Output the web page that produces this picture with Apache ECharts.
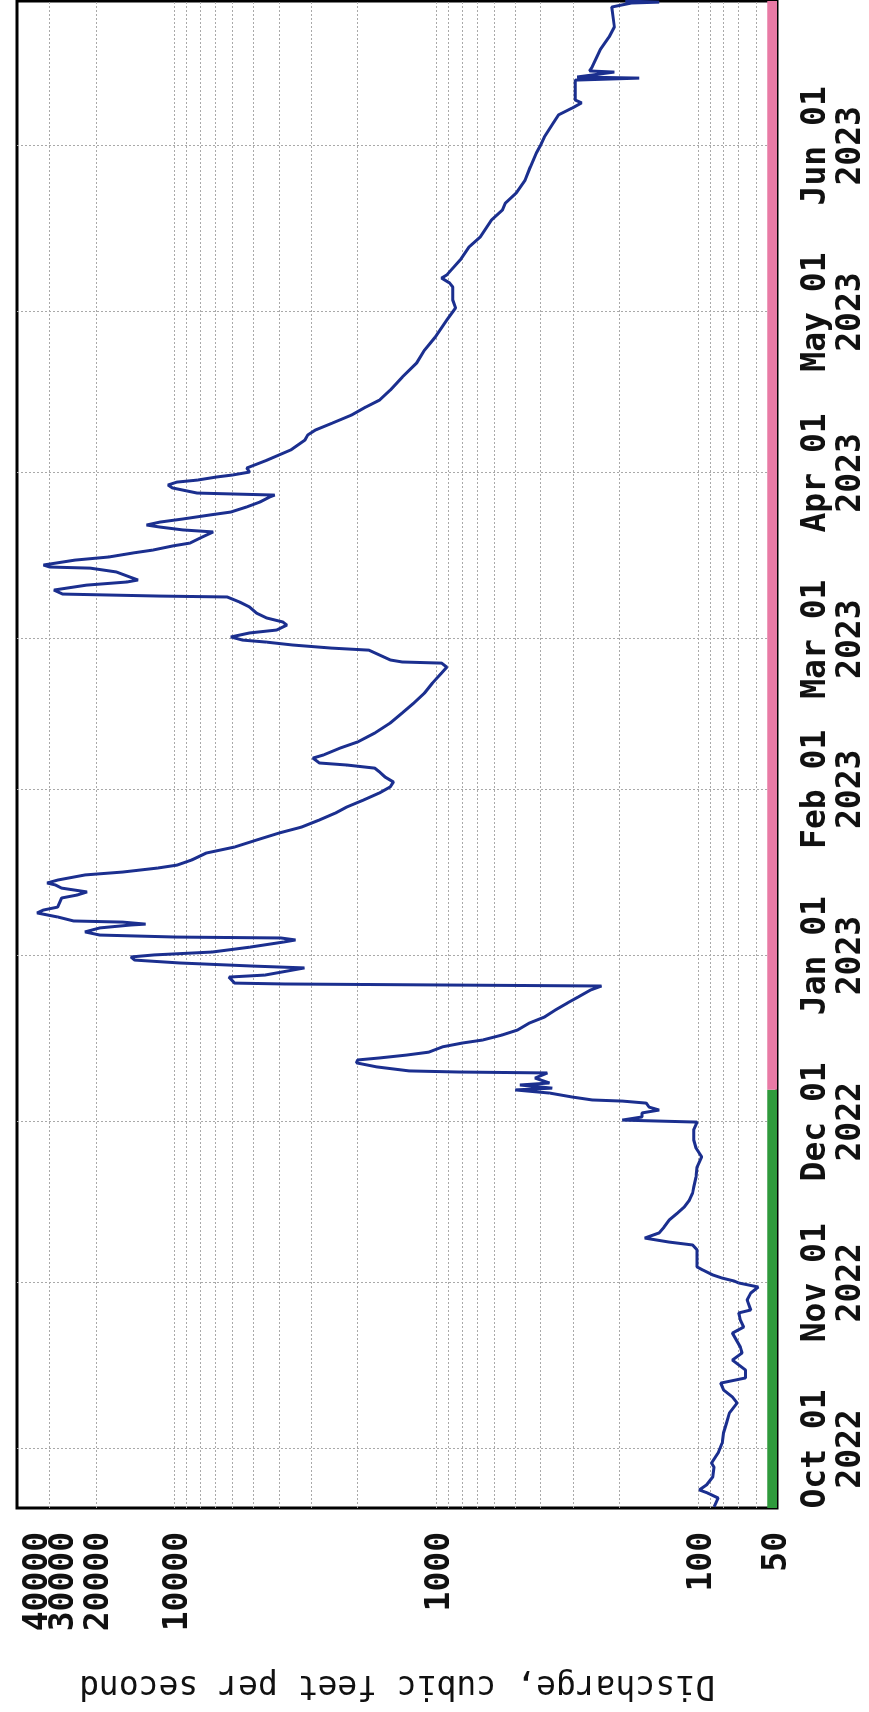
<!DOCTYPE html>
<html>
<head>
<meta charset="utf-8">
<title>Discharge, cubic feet per second</title>
<script src="https://cdn.jsdelivr.net/npm/echarts@6/dist/echarts.min.js"></script>
<style>
  html, body { margin: 0; padding: 0; background: #fff; overflow: hidden; }
  #page { position: relative; width: 869px; height: 1712px; overflow: hidden; background: #fff; }
  /* the scanned graph lies on its side: draw it upright, then turn the box a quarter left */
  #chart { position: absolute; left: 0; top: 0; width: 1712px; height: 869px;
           transform-origin: 0 0; transform: translate(0, 1712px) rotate(-90deg); }
</style>
</head>
<body>
<div id="page"><div id="chart"></div></div>
<script>
var times = [
  '2022-09-20 05:00','2022-09-21 21:00','2022-09-22 19:00','2022-09-23 09:00','2022-09-24 07:00',
  '2022-09-25 19:00','2022-09-27 15:00','2022-09-28 09:00','2022-09-30 06:00','2022-10-02 03:00',
  '2022-10-04 00:00','2022-10-05 20:00','2022-10-07 17:00','2022-10-09 14:00','2022-10-10 17:00',
  '2022-10-12 00:00','2022-10-13 07:00','2022-10-14 06:00','2022-10-15 18:00','2022-10-17 14:00',
  '2022-10-18 22:00','2022-10-20 00:00','2022-10-22 15:00','2022-10-23 18:00','2022-10-25 01:00',
  '2022-10-26 09:00','2022-10-26 22:00','2022-10-28 19:00','2022-10-30 02:00','2022-10-31 05:00',
  '2022-10-31 23:00','2022-11-01 08:00','2022-11-01 21:00','2022-11-02 11:00','2022-11-03 09:00',
  '2022-11-03 23:00','2022-11-07 03:00','2022-11-08 01:00','2022-11-08 14:00','2022-11-09 08:00',
  '2022-11-10 07:00','2022-11-11 09:00','2022-11-12 17:00','2022-11-14 00:00','2022-11-15 03:00',
  '2022-11-16 10:00','2022-11-17 18:00','2022-11-18 20:00','2022-11-20 17:00','2022-11-22 14:00',
  '2022-11-24 11:00','2022-11-26 03:00','2022-11-27 15:00','2022-11-29 12:00','2022-11-30 23:00',
  '2022-12-01 08:00','2022-12-01 22:00','2022-12-02 16:00','2022-12-03 05:00','2022-12-03 18:00',
  '2022-12-04 12:00','2022-12-04 21:00','2022-12-05 02:00','2022-12-05 15:00','2022-12-06 09:00',
  '2022-12-06 23:00','2022-12-07 07:00','2022-12-07 21:00','2022-12-08 06:00','2022-12-09 04:00',
  '2022-12-10 03:00','2022-12-10 07:00','2022-12-10 12:00','2022-12-11 06:00','2022-12-12 00:00',
  '2022-12-12 13:00','2022-12-12 22:00','2022-12-13 11:00','2022-12-14 00:00','2022-12-15 00:00',
  '2022-12-15 17:00','2022-12-16 06:00','2022-12-17 05:00','2022-12-18 03:00','2022-12-19 10:00',
  '2022-12-20 13:00','2022-12-21 21:00','2022-12-23 04:00','2022-12-24 07:00','2022-12-25 14:00',
  '2022-12-26 08:00','2022-12-26 17:00','2022-12-26 21:00','2022-12-28 00:00','2022-12-28 09:00',
  '2022-12-29 17:00','2022-12-30 01:00','2022-12-30 15:00','2022-12-31 04:00','2022-12-31 18:00',
  '2023-01-01 03:00','2023-01-01 16:00','2023-01-02 14:00','2023-01-03 13:00','2023-01-03 22:00',
  '2023-01-04 07:00','2023-01-04 11:00','2023-01-04 20:00','2023-01-05 10:00','2023-01-06 04:00',
  '2023-01-06 17:00','2023-01-06 21:00','2023-01-07 06:00','2023-01-07 11:00','2023-01-08 05:00',
  '2023-01-08 23:00','2023-01-09 12:00','2023-01-10 01:00','2023-01-11 18:00','2023-01-12 07:00',
  '2023-01-12 21:00','2023-01-13 14:00','2023-01-14 04:00','2023-01-14 13:00','2023-01-15 02:00',
  '2023-01-16 01:00','2023-01-16 14:00','2023-01-17 08:00','2023-01-17 21:00','2023-01-18 20:00',
  '2023-01-20 03:00','2023-01-21 06:00','2023-01-22 13:00','2023-01-23 21:00','2023-01-24 23:00',
  '2023-01-26 07:00','2023-01-27 14:00','2023-01-28 17:00','2023-01-30 00:00','2023-01-31 08:00',
  '2023-02-01 11:00','2023-02-02 09:00','2023-02-03 07:00','2023-02-04 06:00','2023-02-04 23:00',
  '2023-02-05 13:00','2023-02-05 22:00','2023-02-06 20:00','2023-02-07 10:00','2023-02-08 17:00',
  '2023-02-09 20:00','2023-02-11 12:00','2023-02-13 09:00','2023-02-15 06:00','2023-02-17 02:00',
  '2023-02-18 23:00','2023-02-20 20:00','2023-02-22 17:00','2023-02-23 19:00','2023-02-24 13:00',
  '2023-02-24 18:00','2023-02-25 03:00','2023-02-26 23:00','2023-02-27 08:00','2023-02-27 22:00',
  '2023-02-28 11:00','2023-02-28 20:00','2023-03-01 10:00','2023-03-02 04:00','2023-03-02 17:00',
  '2023-03-03 15:00','2023-03-04 05:00','2023-03-04 23:00','2023-03-05 21:00','2023-03-07 00:00',
  '2023-03-07 22:00','2023-03-08 21:00','2023-03-09 01:00','2023-03-09 10:00','2023-03-10 04:00',
  '2023-03-11 02:00','2023-03-11 16:00','2023-03-12 01:00','2023-03-12 14:00','2023-03-13 13:00',
  '2023-03-14 06:00','2023-03-14 11:00','2023-03-14 20:00','2023-03-15 18:00','2023-03-16 08:00',
  '2023-03-17 02:00','2023-03-17 15:00','2023-03-18 09:00','2023-03-18 22:00','2023-03-20 01:00',
  '2023-03-21 00:00','2023-03-21 09:00','2023-03-21 22:00','2023-03-22 07:00','2023-03-22 20:00',
  '2023-03-23 10:00','2023-03-24 04:00','2023-03-24 17:00','2023-03-25 16:00','2023-03-26 14:00',
  '2023-03-27 12:00','2023-03-27 21:00','2023-03-28 06:00','2023-03-29 05:00','2023-03-29 18:00',
  '2023-03-30 07:00','2023-03-30 16:00','2023-03-31 06:00','2023-03-31 15:00','2023-04-01 04:00',
  '2023-04-01 22:00','2023-04-03 10:00','2023-04-05 07:00','2023-04-07 03:00','2023-04-08 02:00',
  '2023-04-09 00:00','2023-04-10 07:00','2023-04-11 19:00','2023-04-13 07:00','2023-04-14 14:00',
  '2023-04-16 11:00','2023-04-18 21:00','2023-04-21 12:00','2023-04-23 22:00','2023-04-26 08:00',
  '2023-04-29 12:00','2023-05-01 18:00','2023-05-03 06:00','2023-05-05 16:00','2023-05-06 10:00',
  '2023-05-07 08:00','2023-05-07 22:00','2023-05-10 17:00','2023-05-13 03:00','2023-05-15 00:00',
  '2023-05-18 04:00','2023-05-20 00:00','2023-05-21 08:00','2023-05-23 05:00','2023-05-25 15:00',
  '2023-05-28 01:00','2023-05-30 16:00','2023-06-01 03:00','2023-06-02 15:00','2023-06-05 06:00',
  '2023-06-06 18:00','2023-06-08 01:00','2023-06-09 00:00','2023-06-09 13:00','2023-06-13 06:00',
  '2023-06-13 15:00','2023-06-13 20:00','2023-06-14 18:00','2023-06-14 23:00','2023-06-15 17:00',
  '2023-06-18 21:00','2023-06-21 07:00','2023-06-23 04:00','2023-06-26 21:00','2023-06-27 15:00',
  '2023-06-27 19:00','2023-06-28 00:00'
];

// cubic feet per second
var flows = [
  87, 84, 92, 99, 93,
  88, 87, 89, 84, 81,
  80, 78, 76, 71, 74,
  80, 82, 66, 66, 74,
  68, 69, 74, 67, 69,
  70, 63, 65, 63, 59,
  70, 73, 81, 88, 96,
  101, 101, 105, 129, 160,
  141, 135, 129, 120, 113,
  108, 105, 104, 102, 101,
  97, 102, 104, 104, 101,
  195, 164, 164, 141, 154,
  158, 195, 254, 302, 370,
  500, 361, 480, 370, 420,
  377, 814, 1270, 1690, 2020,
  2000, 1650, 1300, 1070, 945,
  794, 668, 560, 490, 442,
  387, 351, 316, 287, 258,
  234, 3760, 5900, 6200, 4520,
  3190, 4970, 9540, 14200, 14700,
  12000, 7200, 5150, 3830, 3450,
  3930, 9800, 19300, 22000, 19300,
  14700, 12900, 15800, 24300, 28000,
  33500, 31700, 28000, 27000, 23600,
  21600, 27000, 28500, 30700, 28000,
  22000, 15800, 11600, 9800, 8600,
  7570, 5900, 4870, 3980, 3280,
  2800, 2430, 2200, 1900, 1650,
  1500, 1460, 1570, 1650, 1720,
  2200, 2800, 2960, 2700, 2330,
  2000, 1720, 1500, 1350, 1220,
  1110, 1035, 955, 913, 955,
  1350, 1500, 1810, 2500, 3540,
  4460, 5500, 6100, 5170, 4080,
  3730, 3860, 4450, 4870, 5170,
  5640, 6300, 11400, 26800, 28900,
  21700, 15200, 13800, 14800, 16700,
  21000, 30000, 31700, 24000, 17800,
  14400, 12100, 10200, 8750, 7850,
  7130, 9300, 11400, 12800, 11400,
  9300, 7330, 6100, 5300, 4720,
  4340, 4150, 8200, 10200, 10600,
  9800, 8200, 6900, 6000, 5170,
  5300, 4420, 3600, 3180, 3100,
  2900, 2500, 2110, 1860, 1650,
  1500, 1350, 1190, 1110, 1010,
  913, 845, 866, 866, 890,
  955, 913, 811, 750, 680,
  616, 560, 545, 495, 458,
  438, 415, 400, 387, 358,
  342, 303, 279, 295, 295,
  168, 290, 209, 260, 254,
  237, 219, 209, 214, 180,
  141, 190
];

var timeRange = ['2022-09-20 00:00', '2023-06-28 00:00'];
var monthTicks = ['2022-10-01 00:00', '2022-11-01 00:00', '2022-12-01 00:00', '2023-01-01 00:00', '2023-02-01 00:00',
                  '2023-03-01 00:00', '2023-04-01 00:00', '2023-05-01 00:00', '2023-06-01 00:00'];
var monthLabels = ['Oct 01\n2022', 'Nov 01\n2022', 'Dec 01\n2022', 'Jan 01\n2023', 'Feb 01\n2023',
                   'Mar 01\n2023', 'Apr 01\n2023', 'May 01\n2023', 'Jun 01\n2023'];

var flowRange = [50, 40000];
var flowTicks = [50, 100, 1000, 10000, 20000, 30000, 40000];
var flowGrid = [60, 70, 80, 90, 100, 200, 300, 400, 500, 600, 700, 800, 900,
                1000, 2000, 3000, 4000, 5000, 6000, 7000, 8000, 9000, 10000, 20000, 30000];

// approved / provisional data bar along the time axis
var approvedSpan = ['2022-09-20 00:00', '2022-12-07 00:00'];
var provisionalSpan = ['2022-12-07 00:00', '2023-06-28 00:00'];
var statusBand = [50, 54.5];

var FONT = 'DejaVu Sans Mono';
var H = 869;
var G = { left: 204, right: 1, top: 17, bottom: 91 };

// the scan prints the crowded top labels a little lower than their ticks (px)
var labelNudge = [0, 4, 4, 4, 4, 15, 21];

// local time, like the gauge plot
function ms(s) {
  var p = s.split(/[- :]/);
  return new Date(+p[0], +p[1] - 1, +p[2], +(p[3] || 0), +(p[4] || 0)).getTime();
}
var tickMs = monthTicks.map(ms);

// where each flow label sits on the log scale
var decadePx = (H - G.top - G.bottom) / Math.log10(flowRange[1] / flowRange[0]);
var flowLabelAt = flowTicks.map(function (v, i) {
  var a = v * Math.pow(10, -labelNudge[i] / decadePx);
  return Math.min(Math.max(a, flowRange[0] * 1.00001), flowRange[1] * 0.99999);
});
// two label rows on the same scale, so echarts does not drop the packed 30000/40000 pair
var labelsA = flowLabelAt.filter(function (v, i) { return i % 2 === 0; });
var labelsB = flowLabelAt.filter(function (v, i) { return i % 2 === 1; });

function flowLabel(v) {
  var best = 0;
  for (var i = 1; i < flowLabelAt.length; i++) {
    if (Math.abs(Math.log(flowLabelAt[i] / v)) < Math.abs(Math.log(flowLabelAt[best] / v))) best = i;
  }
  return String(flowTicks[best]);
}

var labelStyle = {
  showMinLabel: true, showMaxLabel: true, margin: 24,
  fontFamily: FONT, fontSize: 33, fontWeight: 'bold', color: '#111',
  formatter: flowLabel
};

var chart = echarts.init(document.getElementById('chart'));
chart.setOption({
  animation: false,
  backgroundColor: '#fff',
  grid: {
    left: G.left, right: G.right, top: G.top, bottom: G.bottom,
    show: true, borderColor: '#000', borderWidth: 3, backgroundColor: '#fff'
  },
  xAxis: {
    type: 'value',
    min: ms(timeRange[0]),
    max: ms(timeRange[1]),
    axisLine: { show: false },
    axisTick: { show: false, customValues: tickMs },
    splitLine: { show: true, lineStyle: { color: '#a9a9a9', width: 1, type: [2, 2] } },
    axisLabel: {
      customValues: tickMs,
      margin: 22,
      fontFamily: FONT, fontSize: 33, fontWeight: 'bold', lineHeight: 35, color: '#111',
      formatter: function (v) {
        for (var i = 0; i < tickMs.length; i++) {
          if (Math.abs(tickMs[i] - v) < 3600000) return monthLabels[i];
        }
        return '';
      }
    }
  },
  yAxis: [{
    type: 'log',
    logBase: 10,
    min: flowRange[0],
    max: flowRange[1],
    position: 'left',
    name: 'Discharge, cubic feet per second',
    nameLocation: 'middle',
    nameGap: 160,
    nameTextStyle: { fontFamily: FONT, fontSize: 33, color: '#111' },
    axisLine: { show: false },
    axisTick: { show: false, customValues: flowGrid },
    splitLine: { show: true, lineStyle: { color: '#a9a9a9', width: 1, type: [2, 2] } },
    axisLabel: Object.assign({ customValues: labelsA }, labelStyle)
  }, {
    type: 'log',
    logBase: 10,
    min: flowRange[0],
    max: flowRange[1],
    position: 'left',
    offset: 0,
    axisLine: { show: false },
    axisTick: { show: false },
    splitLine: { show: false },
    axisLabel: Object.assign({ customValues: labelsB }, labelStyle)
  }],
  series: [{
    type: 'line',
    yAxisIndex: 0,
    data: times.map(function (t, i) { return [ms(t), flows[i]]; }),
    showSymbol: false,
    lineStyle: { color: '#1b2f8f', width: 3 },
    z: 3,
    markArea: {
      silent: true,
      data: [
        [{ xAxis: ms(approvedSpan[0]), yAxis: statusBand[0], itemStyle: { color: '#2f9a3c', opacity: 1 } },
         { xAxis: ms(approvedSpan[1]), yAxis: statusBand[1] }],
        [{ xAxis: ms(provisionalSpan[0]), yAxis: statusBand[0], itemStyle: { color: '#e97aa5', opacity: 1 } },
         { xAxis: ms(provisionalSpan[1]), yAxis: statusBand[1] }]
      ]
    }
  }]
});
</script>
</body>
</html>
